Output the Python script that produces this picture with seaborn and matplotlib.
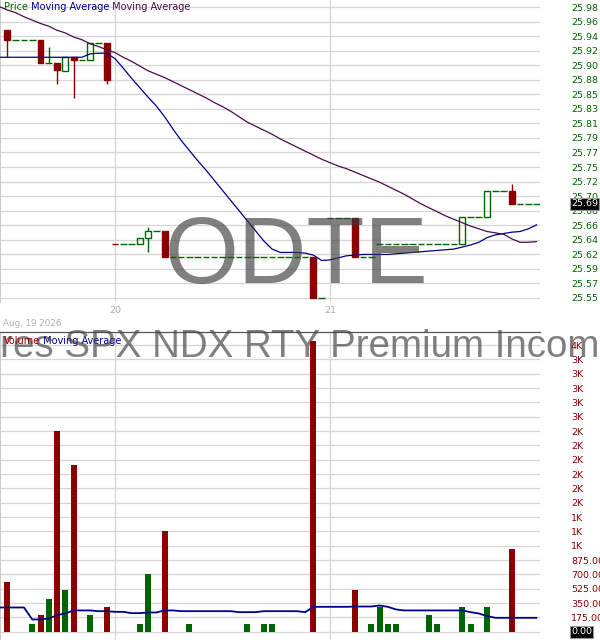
import numpy as np
import pandas as pd
import seaborn as sns
import matplotlib.pyplot as plt
from matplotlib.patches import Rectangle

# --- data: 15-minute slots, Aug 19 (partial), 20, 21 ---
SLOTS = list(range(66))
CANDLE_SLOTS = list(range(1, 66))

candle_open = ([25.947, 25.932, 25.932, 25.932, 25.932, 25.899, 25.899, 25.887, 25.907,
                25.903, 25.903, 25.928, 25.928, 25.630, 25.630, 25.630, 25.630, 25.639,
                25.649, 25.649] + [25.611] * 17 + [25.611, 25.551] + [25.669] * 3 +
               [25.669] + [25.611] * 2 + [25.631] * 10 + [25.631] + [25.670] * 2 +
               [25.670] + [25.709] * 2 + [25.709] + [25.690] * 3)
candle_high = ([25.947, 25.932, 25.932, 25.932, 25.932, 25.922, 25.899, 25.907, 25.907,
                25.903, 25.928, 25.928, 25.928, 25.630, 25.630, 25.630, 25.639, 25.655,
                25.649, 25.649] + [25.611] * 17 + [25.611, 25.551] + [25.669] * 3 +
               [25.669] + [25.611] * 2 + [25.631] * 10 + [25.670] + [25.670] * 2 +
               [25.709] + [25.709] * 2 + [25.719] + [25.690] * 3)
candle_low = ([25.908, 25.932, 25.932, 25.932, 25.899, 25.899, 25.867, 25.887, 25.847,
               25.903, 25.903, 25.928, 25.867, 25.630, 25.630, 25.630, 25.630, 25.619,
               25.649, 25.611] + [25.611] * 17 + [25.551, 25.551] + [25.669] * 3 +
              [25.611] + [25.611] * 2 + [25.631] * 10 + [25.631] + [25.670] * 2 +
              [25.670] + [25.709] * 2 + [25.690] + [25.690] * 3)
candle_close = ([25.932, 25.932, 25.932, 25.932, 25.899, 25.899, 25.888, 25.907, 25.903,
                 25.903, 25.928, 25.928, 25.873, 25.630, 25.630, 25.630, 25.639, 25.649,
                 25.649, 25.611] + [25.611] * 17 + [25.551, 25.551] + [25.669] * 3 +
                [25.611] + [25.611] * 2 + [25.631] * 10 + [25.670] + [25.670] * 2 +
                [25.709] + [25.709] * 2 + [25.690] + [25.690] * 3)

ma_fast = [25.907] * 11 + [25.912, 25.913, 25.913, 25.905, 25.891, 25.876, 25.862, 25.848,
           25.835, 25.819, 25.801, 25.784, 25.769, 25.754, 25.740, 25.725, 25.710, 25.695,
           25.680, 25.665, 25.650, 25.635, 25.623, 25.618, 25.618, 25.618, 25.617, 25.614,
           25.606, 25.607, 25.610, 25.613, 25.614, 25.615, 25.615, 25.615, 25.615, 25.616,
           25.617, 25.618, 25.619, 25.620, 25.621, 25.622, 25.623, 25.626, 25.629, 25.633,
           25.640, 25.644, 25.646, 25.648, 25.649, 25.653, 25.659]
ma_slow = [25.982, 25.977, 25.973, 25.967, 25.962, 25.957, 25.953, 25.947, 25.943, 25.937,
           25.933, 25.927, 25.923, 25.918, 25.914, 25.907, 25.901, 25.894, 25.887, 25.882,
           25.877, 25.871, 25.865, 25.859, 25.853, 25.847, 25.840, 25.834, 25.827, 25.819,
           25.811, 25.805, 25.799, 25.793, 25.786, 25.780, 25.774, 25.768, 25.762, 25.756,
           25.751, 25.746, 25.742, 25.737, 25.732, 25.727, 25.722, 25.716, 25.710, 25.704,
           25.697, 25.690, 25.684, 25.678, 25.672, 25.667, 25.662, 25.657, 25.653, 25.649,
           25.647, 25.645, 25.638, 25.633, 25.633, 25.634]

volume = [0, 610, 0, 0, 100, 205, 400, 2450, 510, 2035, 0, 205, 0, 305, 0, 0, 0, 100, 705, 0,
          1230, 0, 0, 100, 0, 0, 0, 0, 0, 0, 100, 0, 100, 100, 0, 0, 0, 0, 3550, 0,
          0, 0, 0, 510, 0, 100, 305, 100, 100, 0, 0, 0, 205, 100, 0, 0, 305, 100, 0, 305,
          0, 0, 1010, 0, 0, 0]
volume_ma = ([296] * 4 + [150, 150, 162, 203, 223, 260, 260, 260, 251, 251, 243, 243, 227,
             227, 235, 235, 260, 260] + [251] * 7 + [239] * 3 + [251] * 5 + [239] +
             [304] * 5 + [308] * 3 + [320, 304, 272] + [260] * 8 + [239, 223, 191] + [170] * 6)

last_price = 25.69
day_starts = [14, 40]
day_labels = ["20", "21"]
date_label = "Aug, 19 2026"
price_tick_labels = ["25.55", "25.57", "25.59", "25.62", "25.64", "25.66", "25.68", "25.70",
                     "25.72", "25.75", "25.77", "25.79", "25.81", "25.83", "25.85", "25.88",
                     "25.90", "25.92", "25.94", "25.96", "25.98"]
volume_tick_labels = ["0.00", "175.00", "350.00", "525.00", "700.00", "875.00", "1K", "1K",
                      "1K", "2K", "2K", "2K", "2K", "2K", "2K", "3K", "3K", "3K", "3K", "3K", "4K"]
ticker = "ODTE"
fund_name = "iShares SPX NDX RTY Premium Income ETF"

# --- colours ---
RED = "#8b0000"
GREEN = "#006400"
NAVY = "#00008b"
PURPLE = "#4c0b4c"
GRID = "#d6d6d6"

sns.set_style("white")
plt.rcParams["font.family"] = ["DejaVu Sans"]

# candle direction: down if close < open, flat bars compare with previous close
directions = []
prev = None
for o, c in zip(candle_open, candle_close):
    if c < o or (c == o and prev is not None and c < prev):
        directions.append("down")
    else:
        directions.append("up")
    prev = c
vol_dir = ["up"] + directions

fig = plt.figure(figsize=(6, 6.4), dpi=100)
ax_p = fig.add_axes([0, 1 - 302 / 640, 0.9, 302 / 640])
ax_v = fig.add_axes([0, 0, 0.9, 308 / 640])

# --- price panel ---
for i, o, h, l, c, d in zip(CANDLE_SLOTS, candle_open, candle_high, candle_low,
                            candle_close, directions):
    col = RED if d == "down" else GREEN
    if o == c:
        ax_p.hlines(c, i - 0.4, i + 0.4, color=col, lw=1.0, zorder=3)
        if h > c or l < c:
            ax_p.vlines(i, l, h, color=col, lw=1.0, zorder=3)
    else:
        lo_b, hi_b = min(o, c), max(o, c)
        if h > hi_b:
            ax_p.vlines(i, hi_b, h, color=col, lw=1.0, zorder=3)
        if l < lo_b:
            ax_p.vlines(i, l, lo_b, color=col, lw=1.0, zorder=3)
        ax_p.add_patch(Rectangle((i - 0.36, lo_b), 0.72, hi_b - lo_b,
                                 facecolor=col if d == "down" else "none",
                                 edgecolor=col, lw=1.0, zorder=3))

sns.lineplot(x=SLOTS, y=ma_fast, color=NAVY, lw=0.9, ax=ax_p, zorder=4)
sns.lineplot(x=SLOTS, y=ma_slow, color=PURPLE, lw=0.9, ax=ax_p, zorder=4)

price_ticks = np.linspace(25.551, 25.981, 21)
ax_p.set_xlim(0.1, 65.4)
ax_p.set_ylim(25.5446, 25.9918)
ax_p.set_yticks(price_ticks, price_tick_labels)
ax_p.set_xticks(day_starts, day_labels)
ax_p.yaxis.tick_right()
ax_p.tick_params(axis="y", length=0, pad=22.3, labelsize=6.8, labelcolor=GREEN)
ax_p.tick_params(axis="x", length=0, pad=3, labelsize=6.8, labelcolor="#aaaaaa")
ax_p.grid(True, color=GRID, lw=0.9)
ax_p.set_axisbelow(True)
for s in ["top", "right", "bottom"]:
    ax_p.spines[s].set_visible(False)
ax_p.spines["left"].set_color("#cccccc")

ax_p.text(1 + 31 / 540, last_price, f"{last_price:.2f}", transform=ax_p.get_yaxis_transform(),
          color="white", fontsize=6.8, ha="left", va="center", clip_on=False, zorder=6,
          bbox=dict(boxstyle="square,pad=0.15", fc="black", ec="#999999", lw=0.8))

# --- volume panel ---
df_vol = pd.DataFrame({"slot": SLOTS, "volume": volume, "dir": vol_dir})
sns.barplot(data=df_vol, x="slot", y="volume", hue="dir", palette={"up": GREEN, "down": RED},
            native_scale=True, dodge=False, width=0.73, linewidth=0, errorbar=None,
            saturation=1, legend=False, ax=ax_v, zorder=3)
sns.lineplot(x=SLOTS, y=volume_ma, color=NAVY, lw=1.3, ax=ax_v, zorder=4)

ax_v.set_xlim(0.1, 65.4)
ax_v.set_ylim(-101, 3660)
ax_v.set_yticks(np.arange(0, 3501, 175), volume_tick_labels)
ax_v.set_xticks(day_starts, ["", ""])
ax_v.set_xlabel("")
ax_v.set_ylabel("")
ax_v.yaxis.tick_right()
ax_v.tick_params(axis="y", length=0, pad=22.3, labelsize=6.8, labelcolor=RED)
ax_v.tick_params(axis="x", length=0)
ax_v.grid(True, color=GRID, lw=0.9)
ax_v.set_axisbelow(True)
for s in ["right", "bottom"]:
    ax_v.spines[s].set_visible(False)
ax_v.spines["left"].set_color("#cccccc")
ax_v.spines["top"].set_color("#555555")
ax_v.spines["top"].set_linewidth(0.9)

ax_v.text(1 + 31 / 540, 0, "0.00", transform=ax_v.get_yaxis_transform(),
          color="white", fontsize=6.8, ha="left", va="center", clip_on=False, zorder=6,
          bbox=dict(boxstyle="square,pad=0.15", fc="black", ec="#999999", lw=0.8))

# --- legends ---
t = fig.text(4 / 600, 1 - 7 / 640, "Price", color=GREEN, fontsize=7, va="center")
t = ax_p.annotate(" Moving Average", xy=(1, 0), xycoords=t, va="bottom", color=NAVY, fontsize=7)
ax_p.annotate(" Moving Average", xy=(1, 0), xycoords=t, va="bottom", color=PURPLE, fontsize=7)
t = fig.text(4 / 600, 1 - 341 / 640, "Volume", color=RED, fontsize=7, va="center", zorder=6)
ax_v.annotate(" Moving Average", xy=(1, 0), xycoords=t, va="bottom", color=NAVY, fontsize=7)

fig.text(3 / 600, 1 - 324 / 640, date_label, color="#b0b0b0", fontsize=6.3, va="center")

# --- watermarks ---
fig.text(296.5 / 600, 1 - 283.3 / 640, ticker, ha="center", va="baseline", fontsize=68.4,
         family="Liberation Sans", color="#3c3c3c", alpha=0.65)
fig.text(0.523, 1 - 357 / 640, fund_name, ha="center", va="baseline", fontsize=27.7,
         family="Liberation Sans", color="#3c3c3c", alpha=0.65)

fig.savefig("out.png", dpi=100)
